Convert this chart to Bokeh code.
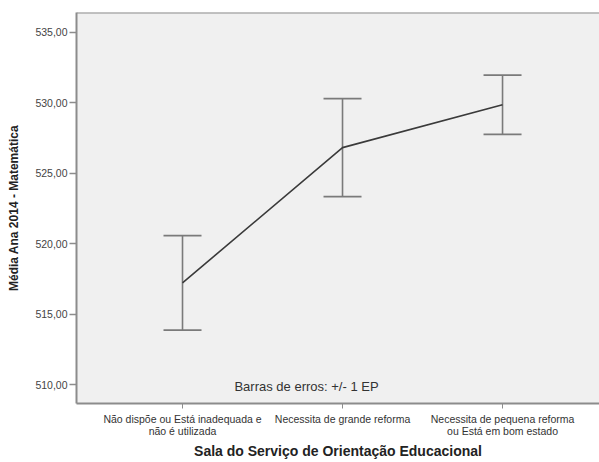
from bokeh.plotting import figure
from bokeh.models import Range1d, FixedTicker, Span, Label, ColumnDataSource, Whisker
from bokeh.embed import file_html
from bokeh.resources import INLINE

# Mean math score (2014) by condition of the educational guidance room, +/- 1 SE
categories = [
    "Não dispõe ou Está inadequada e\nnão é utilizada",
    "Necessita de grande reforma",
    "Necessita de pequena reforma\nou Está em bom estado",
]
means = [517.22, 526.82, 529.86]
std_err = [3.35, 3.48, 2.10]
y_ticks = [510, 515, 520, 525, 530, 535]
y_tick_labels = ["510,00", "515,00", "520,00", "525,00", "530,00", "535,00"]

xs = list(range(len(categories)))
lower = [m - s for m, s in zip(means, std_err)]
upper = [m + s for m, s in zip(means, std_err)]
src = ColumnDataSource(dict(x=xs, mean=means, lower=lower, upper=upper))

FONT = "Liberation Sans"
FRAME = "#8c8c8c"

p = figure(width=599, height=462, output_backend="svg", toolbar_location=None,
           x_range=Range1d(-0.6625, 2.606), y_range=Range1d(508.66, 536.41))
p.min_border_left = 76
p.min_border_top = 12
p.min_border_bottom = 56
p.min_border_right = 0
p.background_fill_color = "#f0f0f0"
p.border_fill_color = "white"
p.outline_line_color = None
p.grid.visible = False

# top edge of the plotting frame
p.add_layout(Span(location=536.41, dimension="width", line_color=FRAME, line_width=2))

# error bars (+/- 1 SE)
whisker = Whisker(source=src, base="x", lower="lower", upper="upper",
                  line_color="#7a7a7a", line_width=1.6)
for head in (whisker.upper_head, whisker.lower_head):
    head.size = 38
    head.line_color = "#7a7a7a"
    head.line_width = 1.8
p.add_layout(whisker)

# line through the means
p.line("x", "mean", source=src, line_color="#3a3a3a", line_width=1.6)

p.add_layout(Label(x=0.775, y=509.85, text="Barras de erros: +/- 1 EP",
                   text_font=FONT, text_font_size="13px", text_color="#333333",
                   text_align="center", text_baseline="middle"))

# x axis
xa = p.xaxis[0]
xa.ticker = FixedTicker(ticks=xs)
xa.major_label_overrides = {i: c for i, c in zip(xs, categories)}
xa.major_label_text_font = FONT
xa.major_label_text_font_size = "10.5px"
xa.major_label_text_line_height = 1.05
xa.major_label_text_color = "#333333"
xa.major_label_standoff = 4
xa.major_tick_out = 5
xa.major_tick_in = 0
xa.minor_tick_out = 0
xa.minor_tick_in = 0
xa.major_tick_line_color = FRAME
xa.axis_line_color = FRAME
xa.axis_line_width = 2
xa.axis_label = "Sala do Serviço de Orientação Educacional"
xa.axis_label_text_font = FONT
xa.axis_label_text_font_size = "14px"
xa.axis_label_text_font_style = "bold"
xa.axis_label_text_color = "#222222"
xa.axis_label_standoff = 3

# y axis
ya = p.yaxis[0]
ya.ticker = FixedTicker(ticks=y_ticks)
ya.major_label_overrides = {t: l for t, l in zip(y_ticks, y_tick_labels)}
ya.major_label_text_font = FONT
ya.major_label_text_font_size = "10.5px"
ya.major_label_text_color = "#444444"
ya.major_label_standoff = 2
ya.major_tick_out = 7
ya.major_tick_in = 0
ya.minor_tick_out = 0
ya.minor_tick_in = 0
ya.major_tick_line_color = FRAME
ya.major_tick_line_width = 1.5
ya.axis_line_color = FRAME
ya.axis_line_width = 2
ya.axis_label = "Média Ana 2014 - Matemática"
ya.axis_label_text_font = FONT
ya.axis_label_text_font_size = "12px"
ya.axis_label_text_font_style = "bold"
ya.axis_label_text_color = "#222222"
ya.axis_label_standoff = 11

open("out.html", "w").write(file_html(p, INLINE))
